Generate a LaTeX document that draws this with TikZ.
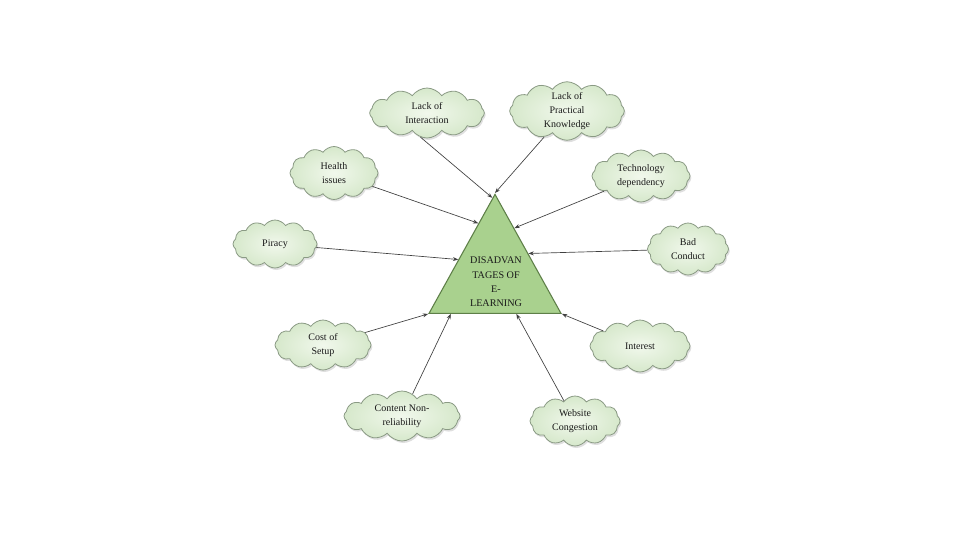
\documentclass[tikz,border=0pt]{standalone}
\usepackage{fontspec}
\setmainfont{Liberation Serif}
\usetikzlibrary{arrows.meta, shapes.geometric, shapes.symbols, shadows, calc}
\usetikzlibrary{positioning}
\usepackage{xcolor}

\definecolor{cloudline}{HTML}{8A9A84}
\definecolor{cloudin}{HTML}{F1F8EC}
\definecolor{cloudout}{HTML}{D6E8CB}
\definecolor{trifill}{HTML}{A9D18E}
\definecolor{triline}{HTML}{5E7F48}

\tikzset{
	idea/.style={cloud, cloud puffs=12, cloud puff arc=110, cloud ignores aspect, draw=cloudline, line width=0.6pt,
		inner color=cloudin, outer color=cloudout, align=center, inner sep=0pt,
		font=\fontsize{7.5}{10.2}\selectfont, text=black!90,
		drop shadow={opacity=0.25, shadow xshift=1pt, shadow yshift=-1.5pt}},
	link/.style={draw=black!75, line width=0.5pt, -{Stealth[length=4pt,width=3pt]}},
}

\begin{document}
\begin{tikzpicture}[x=0.75pt, y=-0.75pt]
			\useasboundingbox (0,0) rectangle (960,540);
			
			% 三角形
			\node[isosceles triangle, shape border rotate=90, isosceles triangle stretches,
				minimum width=99pt, minimum height=89.25pt, inner sep=0pt,
				draw=triline, line width=0.8pt, fill=trifill, anchor=apex] (tri) at (495,193) {};
			\node[align=center, font=\fontsize{7.6}{10.8}\selectfont, text=black!90] (title) at (496,282)
				{DISADVAN\\TAGES OF\\E-\\LEARNING};
			
			% 云
			\node[idea, minimum width=86pt, minimum height=37.5pt] (inter) at (427,113) {Lack of\\Interaction};
			\node[idea, minimum width=86pt, minimum height=39pt] (pract) at (567,111) {Lack of\\Practical\\Knowledge};
			\node[idea, minimum width=66pt, minimum height=39.75pt] (health) at (334,173) {Health\\issues};
			\node[idea, minimum width=73.5pt, minimum height=39pt] (tech) at (641,176) {Technology\\dependency};
			\node[idea, minimum width=63pt, minimum height=36pt] (piracy) at (275,244) {Piracy};
			\node[idea, minimum width=60.75pt, minimum height=39pt] (conduct) at (688,249) {Bad\\Conduct};
			\node[idea, minimum width=72pt, minimum height=37.5pt] (cost) at (323,345) {Cost of\\Setup};
			\node[idea, minimum width=75pt, minimum height=39pt] (interest) at (640,346) {Interest};
			\node[idea, minimum width=87pt, minimum height=37.5pt] (content) at (402,416) {Content Non-\\reliability};
			\node[idea, minimum width=67.5pt, minimum height=37.5pt] (web) at (575,421) {Website\\Congestion};
			
			% 箭头
			\draw[link] (inter.255) -- ($(tri.apex)!0.04!(tri.left corner)$);
			\draw[link] (pract) -- (tri.apex);
			\draw[link] (health) -- ($(tri.apex)!0.25!(tri.left corner)$);
			\draw[link] (tech) -- ($(tri.apex)!0.29!(tri.right corner)$);
			\draw[link] (piracy) -- ($(tri.apex)!0.55!(tri.left corner)$);
			\draw[link] (conduct) -- ($(tri.apex)!0.5!(tri.right corner)$);
			\draw[link] (cost) -- (tri.left corner);
			\draw[link] (interest) -- (tri.right corner);
			\draw[link] (content) -- ($(tri.left corner)!0.17!(tri.right corner)$);
			\draw[link] (web) -- ($(tri.left corner)!0.66!(tri.right corner)$);
		\end{tikzpicture}
\end{document}
